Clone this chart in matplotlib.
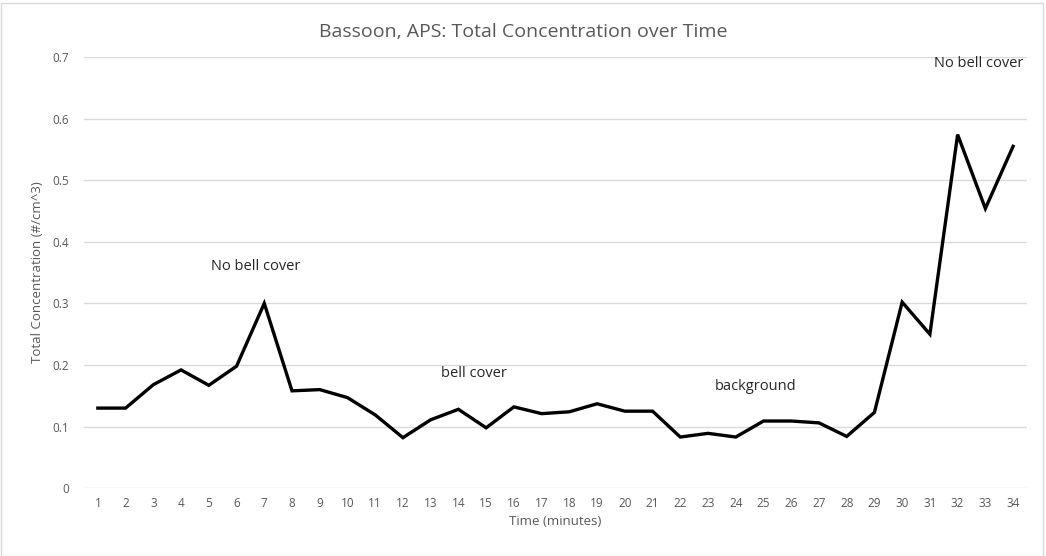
import matplotlib.pyplot as plt
from matplotlib.patches import Rectangle

# data
minutes = list(range(1, 35))
concentration = [0.130, 0.130, 0.168, 0.192, 0.167, 0.198, 0.300, 0.158, 0.160, 0.147,
                 0.119, 0.082, 0.111, 0.128, 0.098, 0.132, 0.121, 0.124, 0.137, 0.125,
                 0.125, 0.083, 0.089, 0.083, 0.109, 0.109, 0.106, 0.084, 0.123, 0.302,
                 0.250, 0.574, 0.454, 0.555]
notes = ["No bell cover", "bell cover", "background", "No bell cover"]
note_x = [6.7, 14.55, 24.7, 32.75]
note_y = [0.36, 0.186, 0.165, 0.69]

plt.rcParams['font.family'] = ['Open Sans', 'DejaVu Sans']
grey = '#595959'

fig = plt.figure(figsize=(10.46, 5.56), dpi=100)
ax = fig.add_axes([0.0803, 0.122, 0.9015, 0.7755])

ax.plot(minutes, concentration, color='black', linewidth=2.4, solid_joinstyle='miter')

for txt, x, y in zip(notes, note_x, note_y):
    ax.text(x, y, txt, ha='center', va='center', fontsize=10.5, color='#262626')

ax.set_xlim(0.5, 34.5)
ax.set_ylim(0, 0.7)
ax.set_xticks(minutes)
ax.set_yticks([0, 0.1, 0.2, 0.3, 0.4, 0.5, 0.6, 0.7])
ax.set_yticklabels(['0', '0.1', '0.2', '0.3', '0.4', '0.5', '0.6', '0.7'])
ax.tick_params(axis='both', length=0, labelsize=8.5, labelcolor=grey)
ax.tick_params(axis='y', pad=11)
ax.tick_params(axis='x', pad=6)
ax.grid(axis='y', color='#d9d9d9', linewidth=1)
ax.set_axisbelow(True)
for s in ax.spines.values():
    s.set_visible(False)

ax.set_xlabel('Time (minutes)', fontsize=9.5, color=grey, labelpad=4)
ax.set_ylabel('Total Concentration (#/cm^3)', fontsize=9.5, color=grey, labelpad=6)

fig.suptitle('Bassoon, APS: Total Concentration over Time', y=0.958, fontsize=14,
             color=grey)

# light chart border like the original
fig.patches.append(Rectangle((0.001, 0.0), 0.996, 0.994, transform=fig.transFigure,
                             fill=False, edgecolor='#d9d9d9', linewidth=1))

fig.savefig('out.png', dpi=100)
